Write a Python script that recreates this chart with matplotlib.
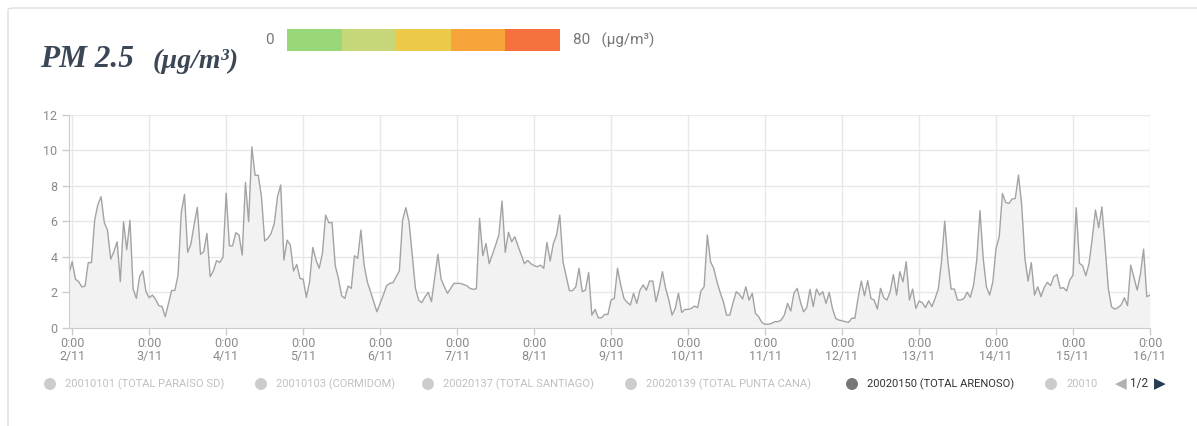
import numpy as np
import matplotlib
matplotlib.use('Agg')
import matplotlib.pyplot as plt
from matplotlib.patches import FancyBboxPatch, Rectangle, Ellipse

plt.rcParams['font.family'] = ['Roboto', 'DejaVu Sans']

W, H = 1197, 426

# hourly PM2.5 readings, one list per day (0:00 .. 23:00)
FIRST_VALUE = 3.06   # 1/11 23:00
LAST_VALUE = 1.84    # 16/11 0:00
DAY_LABELS = ['2/11', '3/11', '4/11', '5/11', '6/11', '7/11', '8/11', '9/11',
              '10/11', '11/11', '12/11', '13/11', '14/11', '15/11', '16/11']
day_02 = [3.72, 2.74, 2.6, 2.3, 2.35, 3.67, 3.67, 6.07, 6.95, 7.39, 5.94, 5.5,
          3.87, 4.29, 4.85, 2.6, 5.98, 4.4, 6.05, 2.18, 1.65, 2.88, 3.21, 2.03]
day_03 = [1.69, 1.84, 1.6, 1.24, 1.2, 0.62, 1.37, 2.1, 2.1, 2.97, 6.48, 7.52,
          4.25, 4.72, 5.8, 6.79, 4.14, 4.29, 5.32, 2.88, 3.2, 3.78, 3.68, 3.97]
day_04 = [7.58, 4.62, 4.62, 5.36, 5.23, 4.1, 8.2, 5.98, 10.2, 8.6, 8.6, 7.39,
          4.89, 5.04, 5.32, 5.88, 7.39, 8.05, 3.82, 4.94, 4.66, 3.2, 3.57, 2.78]
day_05 = [2.74, 1.71, 2.59, 4.53, 3.82, 3.35, 4.19, 6.35, 5.92, 5.94, 3.5, 2.78,
          1.8, 1.65, 2.35, 2.22, 4.06, 3.91, 5.51, 3.53, 2.59, 2.03, 1.47, 0.9]
day_06 = [1.37, 1.84, 2.37, 2.5, 2.54, 2.88, 3.21, 6.07, 6.77, 5.98, 4.1, 2.22,
          1.56, 1.41, 1.75, 1.99, 1.47, 2.8, 4.14, 2.74, 2.31, 1.94, 2.22, 2.5]
day_07 = [2.5, 2.5, 2.44, 2.37, 2.22, 2.16, 2.2, 6.17, 4.06, 4.75, 3.61, 4.14,
          4.66, 5.23, 7.14, 4.25, 5.38, 4.85, 5.13, 4.6, 4.1, 3.61, 3.8, 3.61]
day_08 = [3.5, 3.44, 3.53, 3.35, 4.81, 3.76, 4.75, 5.23, 6.35, 3.72, 2.91, 2.09,
          2.09, 2.31, 3.35, 2.03, 2.12, 3.12, 0.71, 1.03, 0.56, 0.56, 0.75, 0.75]
day_09 = [1.56, 1.65, 3.35, 2.41, 1.65, 1.43, 1.28, 1.94, 1.37, 2.12, 2.41, 2.12,
          2.63, 2.63, 1.47, 2.22, 3.16, 2.22, 1.56, 0.71, 1.09, 1.94, 0.86, 1.03]
day_10 = [1.03, 1.09, 1.22, 1.13, 2.07, 2.31, 5.23, 3.72, 3.35, 2.59, 1.99, 1.47,
          0.71, 0.71, 1.4, 2.03, 1.88, 1.62, 2.31, 1.56, 1.94, 0.81, 0.62, 0.3]
day_11 = [0.19, 0.19, 0.24, 0.34, 0.34, 0.43, 0.71, 1.37, 0.94, 1.94, 2.22, 1.47,
          0.9, 1.13, 2.16, 1.19, 2.18, 1.84, 2.03, 1.37, 1.99, 1.09, 0.53, 0.43]
day_12 = [0.39, 0.34, 0.3, 0.53, 0.53, 1.69, 2.63, 1.8, 2.65, 1.65, 1.56, 1.05,
          2.22, 1.69, 1.56, 2.03, 3.0, 1.84, 3.16, 2.59, 3.72, 1.56, 2.18, 1.09]
day_13 = [1.5, 1.41, 1.13, 1.52, 1.19, 1.65, 2.18, 3.72, 6.01, 3.72, 2.18, 2.18,
          1.56, 1.56, 1.65, 2.0, 1.71, 2.41, 3.82, 6.6, 3.91, 2.31, 1.84, 2.59]
day_14 = [4.47, 5.13, 7.57, 7.07, 7.01, 7.26, 7.29, 8.61, 6.92, 3.91, 2.63, 3.67,
          1.84, 2.31, 1.75, 2.26, 2.56, 2.37, 2.88, 3.0, 2.22, 2.26, 2.07, 2.69]
day_15 = [2.97, 6.77, 3.63, 3.5, 2.93, 3.63, 5.04, 6.64, 5.64, 6.82, 4.57, 2.22,
          1.18, 1.05, 1.13, 1.28, 1.69, 1.24, 3.53, 2.82, 2.12, 3.0, 4.43, 1.75]

SCALE_COLORS = ['#98d878', '#c5d778', '#edc94a', '#f7a53a', '#f5723e']
SCALE_MIN, SCALE_MAX = '0', '80'
LEGEND_LABELS = ['20010101 (TOTAL PARAISO SD)', '20010103 (CORMIDOM)',
                 '20020137 (TOTAL SANTIAGO)', '20020139 (TOTAL PUNTA CANA)',
                 '20020150 (TOTAL ARENOSO)', '20010']
LEGEND_ACTIVE = 4
PAGE_TEXT = '1/2'

days = [day_02, day_03, day_04, day_05, day_06, day_07, day_08,
        day_09, day_10, day_11, day_12, day_13, day_14, day_15]
values = np.array([FIRST_VALUE] + [v for d in days for v in d] + [LAST_VALUE])
hours = np.arange(len(values)) - 1


def fx(px):
    return px / W


def fy(py):
    return 1 - py / H


fig = plt.figure(figsize=(W / 100, H / 100), dpi=100)

# card outline
fig.patches.append(FancyBboxPatch((fx(8), fy(440)), fx(1250), 432 / H,
                                  boxstyle='round,pad=0,rounding_size=0.005',
                                  transform=fig.transFigure, facecolor='none',
                                  edgecolor='#e3e3e3', linewidth=1.2, zorder=-1))

# title
title_font = dict(family=['Liberation Serif', 'DejaVu Serif'], weight='bold',
                  style='italic', color='#3b4756')
fig.text(fx(40), fy(67), 'PM 2.5', fontsize=22.5, va='baseline', **title_font)
fig.text(fx(153), fy(68), '(µg/m³)', fontsize=20, va='baseline', **title_font)

# colour scale
seg_w = (560 - 287) / len(SCALE_COLORS)
for i, c in enumerate(SCALE_COLORS):
    fig.patches.append(Rectangle((fx(287 + i * seg_w), fy(51)), fx(seg_w), 22 / H,
                                 transform=fig.transFigure, facecolor=c,
                                 edgecolor='none'))
fig.text(fx(269), fy(40), SCALE_MIN, fontsize=11, color='#777777',
         ha='center', va='center')
fig.text(fx(573), fy(40), SCALE_MAX + '   (µg/m³)', fontsize=11,
         color='#777777', ha='left', va='center')

# chart
ax = fig.add_axes([fx(69), fy(327.7), fx(1150 - 69), (327.7 - 115) / H])
ax.fill_between(hours, values, 0, color='#f2f2f2', linewidth=0, zorder=1)
ax.plot(hours, values, color='#a3a3a3', linewidth=1.0, zorder=2)
ax.set_xlim(-1, 336)
ax.set_ylim(0, 12)
ax.set_yticks(range(0, 13, 2))
ax.set_xticks(np.arange(len(DAY_LABELS)) * 24)
ax.set_xticklabels(['0:00\n' + d for d in DAY_LABELS], linespacing=0.95)
ax.grid(True, color='#e8e8e8', linewidth=1, zorder=0)
ax.set_axisbelow(True)
for s in ['top', 'right']:
    ax.spines[s].set_visible(False)
ax.spines['left'].set_color('#cccccc')
ax.spines['bottom'].set_color('#cccccc')
ax.tick_params(axis='both', colors='#cccccc', labelcolor='#8a8a8a',
               labelsize=9, length=5, width=1)
ax.tick_params(axis='x', pad=2)

# legend
legend_x = [50, 261, 428, 631, 852, 1051]
for i, (x, lab) in enumerate(zip(legend_x, LEGEND_LABELS)):
    active = i == LEGEND_ACTIVE
    fig.patches.append(Ellipse((fx(x), fy(384)), 12 / W, 12 / H,
                               transform=fig.transFigure,
                               facecolor='#777777' if active else '#cccccc',
                               edgecolor='none'))
    fig.text(fx(x + 15), fy(384), lab, fontsize=8,
             color='#333333' if active else '#c0c0c0', va='center', ha='left')
fig.text(fx(1121), fy(384), '◀', fontsize=11, color='#b0b0b0',
         family='DejaVu Sans', ha='center', va='center')
fig.text(fx(1139), fy(383), PAGE_TEXT, fontsize=8.5, color='#333333',
         ha='center', va='center')
fig.text(fx(1160), fy(384), '▶', fontsize=11, color='#243b53',
         family='DejaVu Sans', ha='center', va='center')

fig.savefig('out.png', dpi=100)
